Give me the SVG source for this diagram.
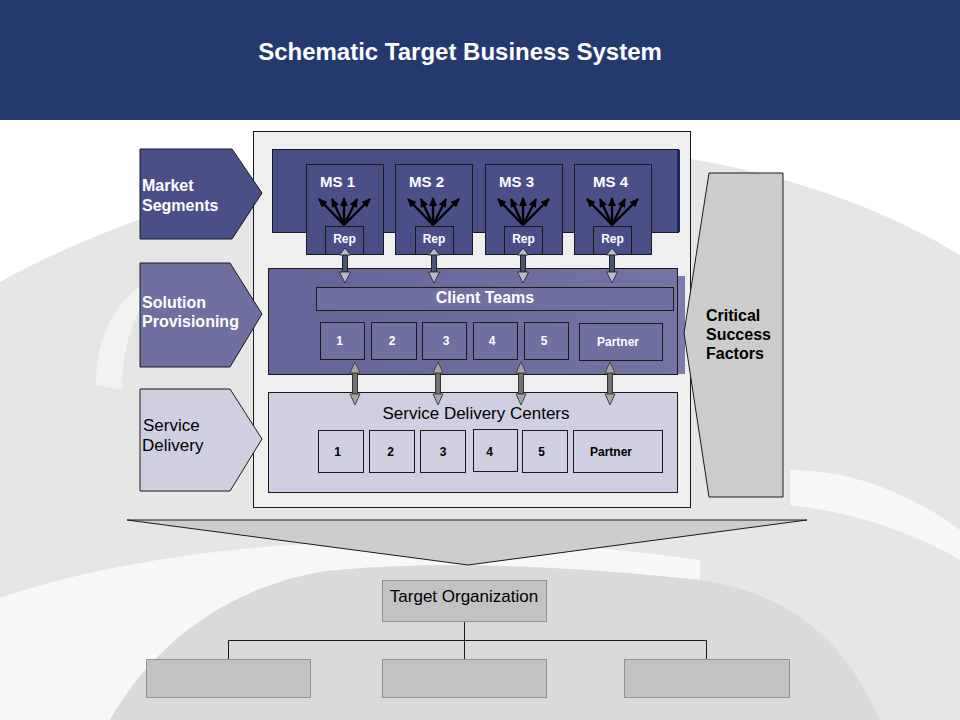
<svg xmlns="http://www.w3.org/2000/svg" width="960" height="720" viewBox="0 0 960 720">
<defs>
<style>
text{font-family:"Liberation Sans",Arial,sans-serif}
.w{fill:#ffffff;font-weight:bold}
.k{fill:#000000}
.kb{fill:#000000;font-weight:bold}
.ln{stroke:#1a1a1a;stroke-width:1;fill:none}
.ms{fill:#4b4f88;stroke:#1a1a1a;stroke-width:1}
.sp{fill:#6f6fa0;stroke:#1a1a1a;stroke-width:1}
.sd{fill:#cfcfe1;stroke:#1a1a1a;stroke-width:1}
.org{fill:#c2c2c2;stroke:#555;stroke-width:1;stroke-dasharray:1 1}
.fan{stroke:#000;stroke-width:2.4;fill:none;marker-end:url(#ah)}
.shaftA{fill:#4a5478;stroke:#222;stroke-width:1}
.headA{fill:#b9bbd2;stroke:#333;stroke-width:1}
.shaftB{fill:#727272;stroke:#333;stroke-width:1}
.headB{fill:#a4a4a4;stroke:#444;stroke-width:1}
</style>
<marker id="ah" viewBox="0 0 9 8" refX="8" refY="4" markerWidth="9" markerHeight="8" markerUnits="userSpaceOnUse" orient="auto">
<path d="M0,0 L9,4 L0,8 Z" fill="#000"/>
</marker>
<linearGradient id="spg" x1="0" y1="0" x2="1" y2="0">
<stop offset="0" stop-color="#64649a"/>
<stop offset="1" stop-color="#7373a4"/>
</linearGradient>
</defs>

<g id="background">
<rect x="0" y="120" width="960" height="600" fill="#ffffff"/>
<path d="M0,282 C120,215 300,160 480,148 C640,138 820,170 960,255 L960,720 L0,720 Z" fill="#e6e6e6"/>
<path d="M96,385 C96,325 124,288 176,263 C138,300 122,338 122,390 Z" fill="#f2f2f2"/>
<path d="M0,598 C80,570 200,548 330,543 C480,538 600,545 700,560 L700,580 C560,565 420,560 320,572 C220,590 150,650 110,720 L0,720 Z" fill="#f7f7f7"/>
<path d="M110,720 C150,650 220,590 320,572 C420,560 560,565 700,580 C780,592 840,630 880,720 Z" fill="#dadada"/>
<path d="M790,470 C860,470 920,500 960,530 L960,560 C910,530 850,512 790,505 Z" fill="#f7f7f7"/>
</g>

<g id="header">
<rect x="0" y="0" width="960" height="120" fill="#243a6e"/>
<text x="460" y="60" font-size="24" font-weight="bold" fill="#ffffff" text-anchor="middle">Schematic Target Business System</text>
</g>

<g id="outer-frame">
<rect x="253.5" y="131.5" width="437" height="376" fill="#efefef" stroke="#1a1a1a"/>
</g>

<g id="market-segments-label">
<polygon points="140,149 232,149 262,193 232,239 140,239" fill="#4b4f88" stroke="#1a1a1a"/>
<text class="w" x="142" y="191" font-size="16">Market</text>
<text class="w" x="142" y="211" font-size="16">Segments</text>
</g>
<g id="solution-provisioning-label">
<polygon points="140,263 230,263 262,314 230,367 140,367" fill="#6f6fa0" stroke="#1a1a1a"/>
<text class="w" x="142" y="308" font-size="16">Solution</text>
<text class="w" x="142" y="327" font-size="16">Provisioning</text>
</g>
<g id="service-delivery-label">
<polygon points="140,389 230,389 262,439 230,491 140,491" fill="#cfcfe1" stroke="#1a1a1a"/>
<text class="k" x="143" y="431" font-size="17">Service</text>
<text class="k" x="142" y="451" font-size="17">Delivery</text>
</g>

<g id="market-band">
<rect x="272.5" y="149.5" width="406" height="83" class="ms"/>
<rect x="677" y="150" width="3" height="82" fill="#1c2468"/>
</g>

<g id="ms1">
<rect x="306.5" y="164.5" width="77" height="90" class="ms"/>
<text class="w" x="320" y="187" font-size="15">MS 1</text>
</g>
<g id="ms2">
<rect x="395.5" y="164.5" width="77" height="90" class="ms"/>
<text class="w" x="409" y="187" font-size="15">MS 2</text>
</g>
<g id="ms3">
<rect x="485.5" y="164.5" width="77" height="90" class="ms"/>
<text class="w" x="499" y="187" font-size="15">MS 3</text>
</g>
<g id="ms4">
<rect x="574.5" y="164.5" width="77" height="90" class="ms"/>
<text class="w" x="593" y="187" font-size="15">MS 4</text>
</g>

<g id="rep1"><rect x="325.5" y="226.5" width="38" height="28" class="ms"/><text class="w" x="344.5" y="243" font-size="12" text-anchor="middle">Rep</text></g>
<g id="rep2"><rect x="415.5" y="226.5" width="38" height="28" class="ms"/><text class="w" x="434" y="243" font-size="12" text-anchor="middle">Rep</text></g>
<g id="rep3"><rect x="504.5" y="226.5" width="38" height="28" class="ms"/><text class="w" x="523.5" y="243" font-size="12" text-anchor="middle">Rep</text></g>
<g id="rep4"><rect x="593.5" y="226.5" width="38" height="28" class="ms"/><text class="w" x="612.5" y="243" font-size="12" text-anchor="middle">Rep</text></g>

<g id="solution-band">
<rect x="268" y="276" width="417" height="98" fill="#7c7cab"/>
<rect x="268.5" y="268.5" width="409" height="106" fill="url(#spg)" stroke="#1a1a1a"/>
</g>
<g id="client-teams">
<rect x="316.5" y="287.5" width="357" height="23" class="sp"/>
<text class="w" x="485" y="303" font-size="16" text-anchor="middle">Client Teams</text>
</g>
<g id="ct1"><rect x="320.5" y="322.5" width="44" height="37" class="sp"/><text class="w" x="339.5" y="345" font-size="12" text-anchor="middle">1</text></g>
<g id="ct2"><rect x="371.5" y="322.5" width="45" height="37" class="sp"/><text class="w" x="392" y="345" font-size="12" text-anchor="middle">2</text></g>
<g id="ct3"><rect x="422.5" y="322.5" width="44" height="37" class="sp"/><text class="w" x="446" y="345" font-size="12" text-anchor="middle">3</text></g>
<g id="ct4"><rect x="473.5" y="322.5" width="44" height="37" class="sp"/><text class="w" x="492" y="345" font-size="12" text-anchor="middle">4</text></g>
<g id="ct5"><rect x="524.5" y="322.5" width="44" height="37" class="sp"/><text class="w" x="544" y="345" font-size="12" text-anchor="middle">5</text></g>
<g id="ct-partner"><rect x="579.5" y="323.5" width="83" height="37" class="sp"/><text class="w" x="618" y="346" font-size="12" text-anchor="middle">Partner</text></g>

<g id="service-delivery-centers">
<rect x="268.5" y="392.5" width="409" height="100" class="sd"/>
<text class="k" x="476" y="419" font-size="17" text-anchor="middle">Service Delivery Centers</text>
</g>
<g id="sdc1"><rect x="318.5" y="430.5" width="45" height="42" class="sd"/><text class="kb" x="337.5" y="456" font-size="12" text-anchor="middle">1</text></g>
<g id="sdc2"><rect x="369.5" y="430.5" width="45" height="42" class="sd"/><text class="kb" x="390.5" y="456" font-size="12" text-anchor="middle">2</text></g>
<g id="sdc3"><rect x="420.5" y="430.5" width="45" height="42" class="sd"/><text class="kb" x="443" y="456" font-size="12" text-anchor="middle">3</text></g>
<g id="sdc4"><rect x="473.5" y="429.5" width="44" height="42" class="sd"/><text class="kb" x="489.5" y="456" font-size="12" text-anchor="middle">4</text></g>
<g id="sdc5"><rect x="522.5" y="430.5" width="45" height="42" class="sd"/><text class="kb" x="541.5" y="456" font-size="12" text-anchor="middle">5</text></g>
<g id="sdc-partner"><rect x="573.5" y="430.5" width="89" height="42" class="sd"/><text class="kb" x="611" y="456" font-size="12" text-anchor="middle">Partner</text></g>

<g id="critical-success-factors">
<polygon points="709,173 783,173 783,497 709,497 684,333" fill="#cccccc" stroke="#1a1a1a"/>
<text class="kb" x="706" y="321" font-size="16">Critical</text>
<text class="kb" x="706" y="340" font-size="16">Success</text>
<text class="kb" x="706" y="359" font-size="16">Factors</text>
</g>

<g id="funnel">
<polygon points="127,520 807,520 468,565" fill="#cdcdcd" stroke="#1a1a1a"/>
</g>

<g id="target-organization">
<rect x="382.5" y="580.5" width="164" height="41" class="org" fill="#bdbdbd"/>
<text class="k" x="464" y="602" font-size="17" text-anchor="middle">Target Organization</text>
</g>
<g id="org-unit-1"><rect x="146.5" y="659.5" width="164" height="38" class="org"/></g>
<g id="org-unit-2"><rect x="382.5" y="659.5" width="164" height="38" class="org"/></g>
<g id="org-unit-3"><rect x="624.5" y="659.5" width="165" height="38" class="org"/></g>

<g id="connectors">
<g>
<path class="fan" d="M344,225 L319,199"/><path class="fan" d="M344,225 L332,199"/><path class="fan" d="M344,225 L344,198"/><path class="fan" d="M344,225 L357,199"/><path class="fan" d="M344,225 L370,199"/>
<path class="fan" d="M433,225 L408,199"/><path class="fan" d="M433,225 L421,199"/><path class="fan" d="M433,225 L433,198"/><path class="fan" d="M433,225 L446,199"/><path class="fan" d="M433,225 L459,199"/>
<path class="fan" d="M523,225 L498,199"/><path class="fan" d="M523,225 L511,199"/><path class="fan" d="M523,225 L523,198"/><path class="fan" d="M523,225 L536,199"/><path class="fan" d="M523,225 L549,199"/>
<path class="fan" d="M612,225 L587,199"/><path class="fan" d="M612,225 L600,199"/><path class="fan" d="M612,225 L612,198"/><path class="fan" d="M612,225 L625,199"/><path class="fan" d="M612,225 L638,199"/>
</g>
<g>
<rect class="shaftA" x="342.5" y="255" width="5" height="17"/><polygon class="headA" points="345,248 339.5,255 350.5,255"/><polygon class="headA" points="345,283 339.5,272 350.5,272"/>
<rect class="shaftA" x="431.5" y="255" width="5" height="17"/><polygon class="headA" points="434,248 428.5,255 439.5,255"/><polygon class="headA" points="434,283 428.5,272 439.5,272"/>
<rect class="shaftA" x="520.5" y="255" width="5" height="17"/><polygon class="headA" points="523,248 517.5,255 528.5,255"/><polygon class="headA" points="523,283 517.5,272 528.5,272"/>
<rect class="shaftA" x="609.5" y="255" width="5" height="17"/><polygon class="headA" points="612,248 606.5,255 617.5,255"/><polygon class="headA" points="612,283 606.5,272 617.5,272"/>
</g>
<g>
<rect class="shaftB" x="352.5" y="373" width="5" height="21"/><polygon class="headB" points="355,362 350,373 360,373"/><polygon class="headB" points="355,405 350,394 360,394"/>
<rect class="shaftB" x="435.5" y="373" width="5" height="21"/><polygon class="headB" points="438,362 433,373 443,373"/><polygon class="headB" points="438,405 433,394 443,394"/>
<rect class="shaftB" x="518.5" y="373" width="5" height="21"/><polygon class="headB" points="521,362 516,373 526,373"/><polygon class="headB" points="521,405 516,394 526,394"/>
<rect class="shaftB" x="607.5" y="373" width="5" height="21"/><polygon class="headB" points="610,362 605,373 615,373"/><polygon class="headB" points="610,405 605,394 615,394"/>
</g>
<path class="ln" d="M464.5,622 V659 M228.5,640.5 H706.5 M228.5,640.5 V659 M706.5,640.5 V659"/>
</g>
</svg>
